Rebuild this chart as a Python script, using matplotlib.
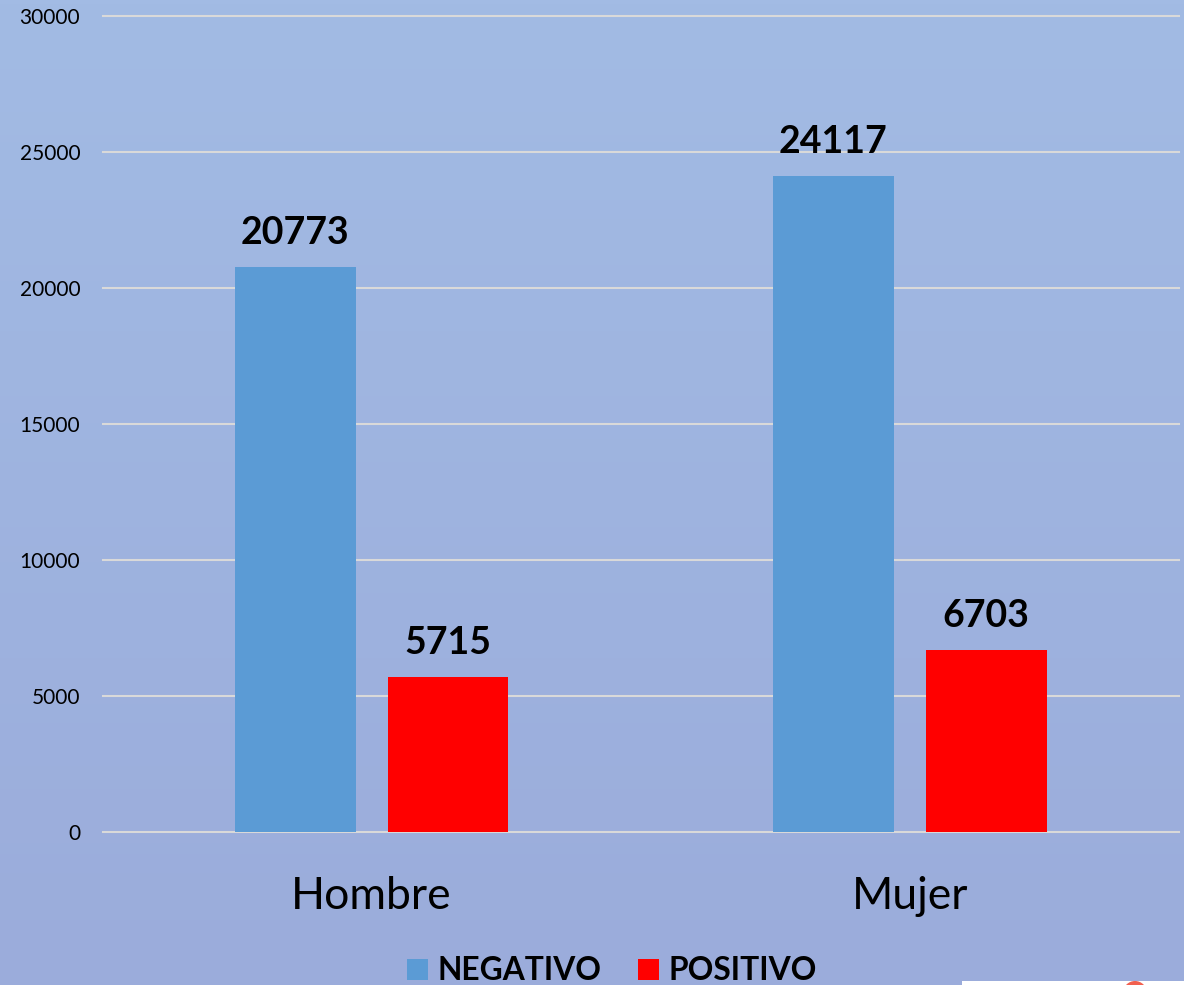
import matplotlib.pyplot as plt
import numpy as np
from matplotlib.patches import Rectangle, Circle

categories = ['Hombre', 'Mujer']
negativo = [20773, 24117]
positivo = [5715, 6703]
yticks = [0, 5000, 10000, 15000, 20000, 25000, 30000]

plt.rcParams['font.family'] = ['Lato', 'DejaVu Sans']

W, H = 1184, 985
fig = plt.figure(figsize=(W / 100, H / 100), dpi=100)

# background gradient over the whole figure
bg = fig.add_axes([0, 0, 1, 1], zorder=0)
bg.set_axis_off()
top = np.array([0xA2, 0xBB, 0xE4]) / 255
bottom = np.array([0x9B, 0xAC, 0xDB]) / 255
t = np.linspace(0, 1, 256)[:, None, None]
bg.imshow(top + (bottom - top) * t, aspect='auto', extent=[0, W, H, 0])
bg.set_xlim(0, W)
bg.set_ylim(H, 0)

# cut-off logo in the corner
bg.add_patch(Rectangle((962, 981), 222, 4, color='white', lw=0))
bg.add_patch(Circle((1135, 993), 12, color='#F2604F', lw=0))

ax = fig.add_axes([102.5 / W, 1 - 832 / H, 1076.5 / W, 816 / H], zorder=1)
ax.patch.set_alpha(0)

x = np.arange(len(categories))
bw = 0.2245
off = 0.142
b1 = ax.bar(x - off, negativo, bw, color='#5B9BD5', label='NEGATIVO', zorder=3)
b2 = ax.bar(x + off, positivo, bw, color='#FF0000', label='POSITIVO', zorder=3)

ax.bar_label(b1, padding=12, fontsize=27, fontweight='bold', color='black')
ax.bar_label(b2, padding=12, fontsize=27, fontweight='bold', color='black')

ax.set_xlim(-0.5, 1.5)
ax.set_ylim(0, 30000)
ax.set_yticks(yticks)
ax.set_xticks(x)
ax.set_xticklabels(categories)
ax.tick_params(axis='y', length=0, labelsize=15, pad=16)
ax.tick_params(axis='x', length=0, labelsize=32, pad=32)
ax.grid(axis='y', color='#D9D9D9', linewidth=1.5, zorder=1, clip_on=False)
ax.set_axisbelow(True)
for s in ax.spines.values():
    s.set_visible(False)

leg = ax.legend(loc='center', bbox_to_anchor=(612 / W, 1 - 971 / H), bbox_transform=fig.transFigure,
                ncol=2, frameon=False, handlelength=0.65, handleheight=0.65, handletextpad=0.31,
                columnspacing=1.15, prop={'size': 22.9, 'weight': 'bold'})

fig.savefig('out.png', dpi=100)
